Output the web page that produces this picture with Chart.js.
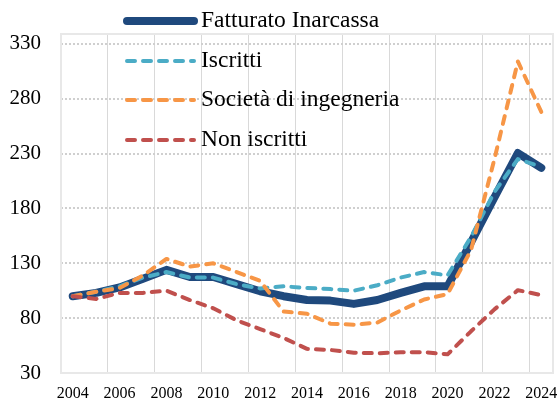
<!DOCTYPE html>
<html>
<head>
<meta charset="utf-8">
<script src="https://cdn.jsdelivr.net/npm/chart.js@4.4.1/dist/chart.umd.min.js"></script>
<style>
  html, body { margin: 0; padding: 0; background: #fff; }
  #wrap { width: 558px; height: 400px; }
</style>
</head>
<body>
<div id="wrap"><canvas id="chart" width="558" height="400"></canvas></div>
<script>
/* ======================
   DATI
====================== */
const years = ["2004", "2005", "2006", "2007", "2008", "2009", "2010", "2011", "2012", "2013", "2014",
  "2015", "2016", "2017", "2018", "2019", "2020", "2021", "2022", "2023", "2024"];

const fatturato = [100, 103, 108, 116, 124, 117.5, 117.5, 111, 104.5, 100, 96.5, 96, 93, 96.5, 103, 109, 109, 149, 190, 230.5, 217];
const iscritti = [100, 104, 109, 117, 122, 117, 117, 111, 107, 109, 107.5, 106.5, 105, 110, 117, 122, 119, 154, 195, 225, 218];
const societa = [100, 104, 107.5, 119, 134, 127, 130, 122, 114, 86, 84, 75, 74, 76, 87, 97, 102, 142, 225, 314, 268];
const nonIscritti = [100, 97.5, 103, 103, 105, 96.5, 89, 78, 70, 62, 52, 51, 48.5, 48, 49, 49, 47, 68, 88, 105.5, 101];

const yTicks = [30, 80, 130, 180, 230, 280, 330];

const FONT = "'Liberation Serif', 'DejaVu Serif', serif";

/* ======================
   BORDO AREA GRAFICO
====================== */
const plotBorder = {
  id: "plotBorder",
  beforeDatasetsDraw(chart) {
    const a = chart.chartArea;
    const ctx = chart.ctx;
    ctx.save();
    ctx.strokeStyle = "#e8e8e8";
    ctx.lineWidth = 2;
    ctx.strokeRect(a.left, a.top, a.right - a.left, a.bottom - a.top);
    ctx.restore();
  },
};

/* ======================
   LEGENDA
====================== */
const legendBox = {
  id: "legendBox",
  afterDatasetsDraw(chart) {
    const ctx = chart.ctx;
    const rowsY = [21, 61, 100, 140];
    ctx.save();
    chart.data.datasets.forEach((ds, i) => {
      const y = rowsY[i];
      ctx.beginPath();
      ctx.strokeStyle = ds.borderColor;
      ctx.lineWidth = ds.borderWidth;
      ctx.lineCap = "round";
      ctx.setLineDash(ds.borderDash || []);
      ctx.moveTo(127, y);
      ctx.lineTo(194, y);
      ctx.stroke();

      ctx.setLineDash([]);
      ctx.fillStyle = "#000";
      ctx.font = "23.5px " + FONT;
      ctx.textBaseline = "middle";
      ctx.textAlign = "left";
      ctx.fillText(ds.label, 201, y);
    });
    ctx.restore();
  },
};

function lineSet(label, data, color, width, dash, order) {
  return {
    label: label,
    data: data,
    borderColor: color,
    backgroundColor: color,
    borderWidth: width,
    borderDash: dash,
    borderCapStyle: "round",
    borderJoinStyle: "round",
    pointRadius: 0,
    tension: 0,
    order: order,
  };
}

new Chart(document.getElementById("chart"), {
  type: "line",
  data: {
    labels: years,
    datasets: [
      lineSet("Fatturato Inarcassa", fatturato, "#1f497d", 8, [], 4),
      lineSet("Iscritti", iscritti, "#4bacc6", 4, [8, 8], 3),
      lineSet("Società di ingegneria", societa, "#f79646", 4, [8, 8], 2),
      lineSet("Non iscritti", nonIscritti, "#c0504d", 4, [8, 8], 1),
    ],
  },
  options: {
    responsive: false,
    animation: false,
    layout: { padding: { top: 34, right: 5, left: 0, bottom: 0 } },
    plugins: {
      legend: { display: false },
      tooltip: { enabled: false },
    },
    scales: {
      x: {
        offset: true,
        grid: {
          offset: true,
          drawTicks: false,
          color: (c) => (c.index !== undefined && c.index % 2 === 0 ? "#d9d9d9" : "rgba(0,0,0,0)"),
          lineWidth: 1,
        },
        border: { display: false },
        ticks: {
          autoSkip: false,
          maxRotation: 0,
          padding: 11,
          color: "#000",
          font: { family: FONT, size: 16 },
          callback: (v, i) => (i % 2 === 0 ? years[i] : ""),
        },
        afterFit: (s) => {
          s.height = 27;
          s.paddingLeft = 0;
          s.paddingRight = 0;
        },
      },
      y: {
        min: 30,
        max: 339,
        afterBuildTicks: (s) => { s.ticks = yTicks.map((v) => ({ value: v })); },
        grid: {
          drawTicks: false,
          color: "#cfcfcf",
          lineWidth: 2,
        },
        border: { display: false, dash: [2, 2] },
        ticks: {
          padding: 20,
          color: "#000",
          font: { family: FONT, size: 21 },
        },
        afterFit: (s) => {
          s.width = 61;
          s.paddingTop = 0;
          s.paddingBottom = 0;
        },
      },
    },
  },
  plugins: [plotBorder, legendBox],
});
</script>
</body>
</html>
